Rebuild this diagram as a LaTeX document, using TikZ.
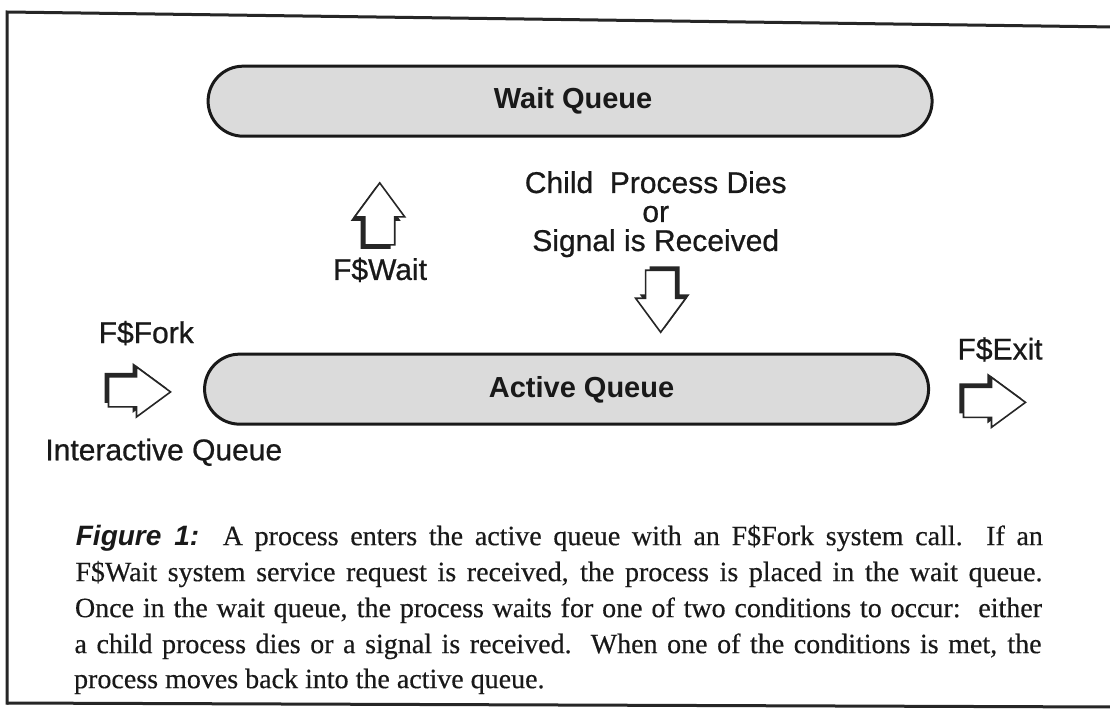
\documentclass[tikz,border=0pt]{standalone}
\usepackage{fontspec}
\setmainfont{Liberation Serif}
\setsansfont{Liberation Sans}
\newfontfamily\labelfont{Liberation Sans}[FakeBold=0.7]
\newfontfamily\captionfont{Liberation Serif}[FakeBold=0.4]
% outline of a block arrow pointing up, centred on the origin, shifted by (#1,#2)
\newcommand\arrowoutline[2]{(#1+0,#2-31) -- (#1+25,#2+3) -- (#1+15,#2+3) -- (#1+15,#2+31)
  -- (#1-15,#2+31) -- (#1-15,#2+3) -- (#1-25,#2+3) -- cycle}
\begin{document}
\begin{tikzpicture}[x=1pt,y=-1pt,
  frame/.style={draw=black!85, line width=3pt},
  queue/.style={draw=black!90, line width=3pt, fill=black!14, rounded corners=35pt,
    minimum width=724pt, minimum height=70pt, inner sep=0pt},
  qlabel/.style={font=\sffamily\bfseries\fontsize{29}{34}\selectfont, inner sep=0pt, text=black!90},
  lbl/.style={font=\labelfont\fontsize{30}{29}\selectfont, inner sep=0pt, text=black!90},
  capline/.style={font=\captionfont\fontsize{28}{36}\selectfont, inner sep=0pt, anchor=base west, text=black!90},
  blockarrow/.pic={
    \fill[black!85] \arrowoutline{-4}{4};
    \filldraw[fill=white, draw=black!85, line width=1.6pt, line join=miter] \arrowoutline{0}{0};
  }]
\useasboundingbox (0,0) rectangle (1110,709);
\fill[white] (0,0) rectangle (1110,709);

% surrounding frame (open on the right)
\coordinate (ftl) at (7,12);
\coordinate (fbl) at (7,703);
\coordinate (ftr) at (1115,27);
\coordinate (fbr) at (1115,707);
\draw[frame, line cap=rect] (fbl) -- (ftl) -- (ftr);
\draw[frame] (fbl) -- (fbr);

\begin{scope}[rotate around={-0.7:(555,355)}]
  % the two queues
  \node[queue] (waitq) at (567,101) {};
  \node[qlabel] (waitlbl) at (570,101) {Wait Queue};
  \node[queue] (activeq) at (567,389) {};
  \node[qlabel] (activelbl) at (582,390) {Active Queue};

  % transitions between the queues
  \pic at (378,216) {blockarrow};
  \node[lbl] (fwait) at (379,272) {F\$Wait};
  \pic[rotate=180] at (660,300) {blockarrow};
  \node[lbl, align=center] (cond) at (654,213) {Child\ \ Process Dies\\or\\Signal is Received};

  % entry into and exit from the active queue
  \node[lbl] (ffork) at (146,338) {F\$Fork};
  \pic[rotate=-90] at (140,397) {blockarrow};
  \node[lbl] (interq) at (165,457) {Interactive Queue};
  \node[lbl] (fexit) at (1000,344) {F\$Exit};
  \pic[rotate=-90] at (995,397) {blockarrow};

  % caption
  \node[capline] (cap1) at (78,551) {\makebox[967pt][s]{{\sffamily\bfseries\itshape Figure 1:}\ \ A process enters the active queue with an F\$Fork system call.\ \ If an}};
  \node[capline] (cap2) at (78,587) {\makebox[967pt][s]{F\$Wait system service request is received, the process is placed in the wait queue.}};
  \node[capline] (cap3) at (78,623) {\makebox[967pt][s]{Once in the wait queue, the process waits for one of two conditions to occur:\ \ either}};
  \node[capline] (cap4) at (78,659) {\makebox[967pt][s]{a child process dies or a signal is received.\ \ When one of the conditions is met, the}};
  \node[capline] (cap5) at (78,694) {process moves back into the active queue.};
\end{scope}
\end{tikzpicture}
\end{document}
